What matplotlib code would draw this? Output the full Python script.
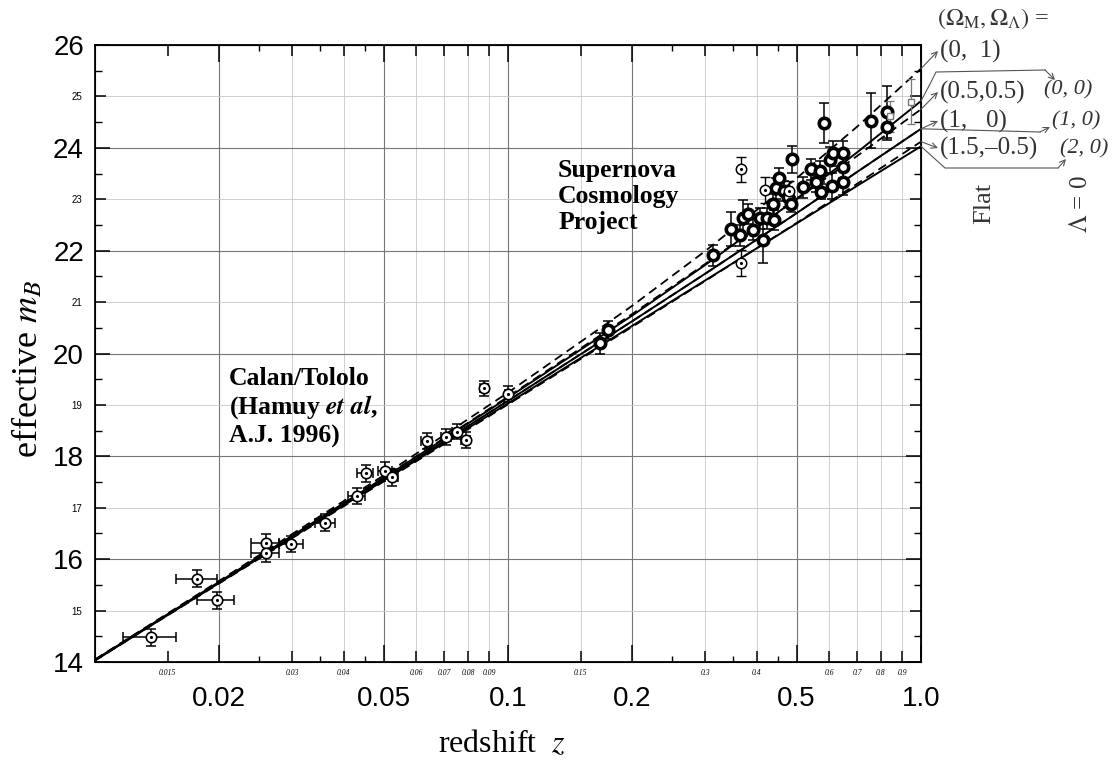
import matplotlib
matplotlib.use("Agg")
import matplotlib.pyplot as plt
from matplotlib.lines import Line2D

plt.rcParams['mathtext.fontset'] = 'stix'
SERIF = ['Liberation Serif', 'DejaVu Serif']
SANS = ['Liberation Sans Narrow', 'Liberation Sans', 'DejaVu Sans']

# ---- model curves ----
z_model = [0.01, 0.02, 0.05, 0.1, 0.2, 0.3, 0.5, 0.7, 1.0]
m_flat_0_1 = [14.05, 15.58, 17.63, 19.24, 20.93, 21.99, 23.41, 24.41, 25.54]
m_flat_05_05 = [14.04, 15.56, 17.59, 19.16, 20.77, 21.74, 23.00, 23.84, 24.75]
m_1_0 = [14.04, 15.55, 17.55, 19.08, 20.63, 21.55, 22.73, 23.53, 24.37]
m_flat_15_m05 = [14.03, 15.53, 17.51, 19.01, 20.52, 21.41, 22.54, 23.30, 24.12]
m_open_0_0 = [14.04, 15.56, 17.58, 19.14, 20.74, 21.72, 23.01, 23.91, 24.91]
m_open_2_0 = [14.03, 15.54, 17.53, 19.03, 20.54, 21.42, 22.53, 23.26, 24.03]

# ---- Calan/Tololo supernovae ----
ct_z = [0.0137, 0.0177, 0.0197, 0.0259, 0.0259, 0.0299, 0.0361, 0.0430, 0.0452,
        0.0504, 0.0523, 0.0636, 0.0707, 0.0751, 0.0791, 0.0876, 0.1002]
ct_m = [14.48, 15.62, 15.20, 16.31, 16.12, 16.29, 16.71, 17.23, 17.67,
        17.72, 17.59, 18.30, 18.38, 18.48, 18.32, 19.32, 19.21]
ct_dm = [0.17, 0.16, 0.16, 0.17, 0.17, 0.16, 0.16, 0.16, 0.16,
         0.17, 0.16, 0.15, 0.15, 0.15, 0.15, 0.15, 0.16]
ct_dz = 0.002

# ---- Supernova Cosmology Project, filled rings ----
scp_z = [0.167, 0.175, 0.313, 0.347, 0.365, 0.370, 0.382, 0.391, 0.408, 0.415,
         0.423, 0.439, 0.441, 0.446, 0.454, 0.467, 0.476, 0.484, 0.488, 0.517,
         0.541, 0.557, 0.570, 0.572, 0.583, 0.602, 0.608, 0.611, 0.649, 0.649,
         0.649, 0.755, 0.826, 0.826]
scp_m = [20.20, 20.46, 21.91, 22.43, 22.30, 22.63, 22.71, 22.41, 22.63, 22.21,
         22.63, 22.91, 22.60, 23.21, 23.41, 23.16, 23.04, 22.90, 23.78, 23.23,
         23.58, 23.34, 23.54, 23.15, 24.49, 23.76, 23.26, 23.89, 23.89, 23.62,
         23.33, 24.53, 24.70, 24.40]
scp_dm = [0.20, 0.18, 0.20, 0.33, 0.20, 0.35, 0.20, 0.20, 0.20, 0.45,
          0.20, 0.20, 0.20, 0.20, 0.20, 0.20, 0.20, 0.15, 0.26, 0.20,
          0.20, 0.20, 0.20, 0.15, 0.39, 0.25, 0.25, 0.25, 0.25, 0.20,
          0.25, 0.54, 0.50, 0.25]
# open (dotted) circles and faint squares
scp_open_z = [0.366, 0.366, 0.419, 0.480]
scp_open_m = [23.58, 21.76, 23.18, 23.16]
scp_open_dm = [0.25, 0.25, 0.25, 0.20]
scp_sq_z = [0.841, 0.944]
scp_sq_m = [24.61, 24.90]
scp_sq_dm = [0.30, 0.44]

# ---- ticks ----
x_major = [0.02, 0.05, 0.1, 0.2, 0.5, 1.0]
x_major_lab = ['0.02', '0.05', '0.1', '0.2', '0.5', '1.0']
x_minor = [0.015, 0.03, 0.04, 0.06, 0.07, 0.08, 0.09, 0.15, 0.3, 0.4, 0.6, 0.7, 0.8, 0.9]
x_minor_lab = ['0.015', '0.03', '0.04', '0.06', '0.07', '0.08', '0.09',
               '0.15', '0.3', '0.4', '0.6', '0.7', '0.8', '0.9']
x_tiny = [0.025, 0.035, 0.045, 0.25, 0.35, 0.45]
x_grid_dark = [0.02, 0.05, 0.1, 0.2, 0.5]
x_grid_light = [0.03, 0.04, 0.06, 0.07, 0.08, 0.09, 0.15, 0.3, 0.4, 0.6, 0.7, 0.8, 0.9]
y_major = [14, 16, 18, 20, 22, 24, 26]
y_minor = [15, 17, 19, 21, 23, 25]
y_tiny = [14.5, 15.5, 16.5, 17.5, 18.5, 19.5, 20.5, 21.5, 22.5, 23.5, 24.5, 25.5]

fig = plt.figure(figsize=(11.12, 7.63), dpi=100)
ax = fig.add_axes([95 / 1112, 1 - 662 / 763, (921 - 95) / 1112, (662 - 45) / 763])
ax.set_xscale('log')
ax.set_xlim(0.01, 1.0)
ax.set_ylim(14, 26)

for v in x_grid_dark:
    ax.axvline(v, color='#777777', lw=0.8, zorder=0)
for v in x_grid_light:
    ax.axvline(v, color='#c8c8c8', lw=0.6, zorder=0)
for v in y_major:
    ax.axhline(v, color='#777777', lw=0.8, zorder=0)
for v in y_minor:
    ax.axhline(v, color='#c8c8c8', lw=0.6, zorder=0)

# model curves: dashed = flat, solid = Lambda = 0
for m in [m_flat_0_1, m_flat_05_05, m_1_0, m_flat_15_m05]:
    ax.plot(z_model, m, color='k', lw=1.3, ls=(0, (5, 3)), zorder=2)
for m in [m_open_0_0, m_1_0, m_open_2_0]:
    ax.plot(z_model, m, color='k', lw=1.4, zorder=2)

# Calan/Tololo
ax.errorbar(ct_z, ct_m, xerr=ct_dz, yerr=ct_dm, fmt='none', ecolor='k',
            elinewidth=1.1, capsize=3.5, capthick=1.1, zorder=3)
ax.plot(ct_z, ct_m, 'o', mfc='white', mec='k', ms=7.5, mew=1.2, zorder=4)
ax.plot(ct_z, ct_m, '.', color='k', ms=2.5, zorder=5)

# SCP
ax.errorbar(scp_z, scp_m, yerr=scp_dm, fmt='none', ecolor='k',
            elinewidth=1.1, capsize=3.5, capthick=1.1, zorder=3)
ax.plot(scp_z, scp_m, 'o', mfc='white', mec='k', ms=7.5, mew=2.6, zorder=4)
ax.errorbar(scp_open_z, scp_open_m, yerr=scp_open_dm, fmt='none', ecolor='k',
            elinewidth=1.0, capsize=3.5, capthick=1.0, zorder=3)
ax.plot(scp_open_z, scp_open_m, 'o', mfc='white', mec='k', ms=7.5, mew=1.1, zorder=4)
ax.plot(scp_open_z, scp_open_m, '.', color='k', ms=2.5, zorder=5)
ax.errorbar(scp_sq_z, scp_sq_m, yerr=scp_sq_dm, fmt='none', ecolor='#777777',
            elinewidth=0.9, capsize=3, capthick=0.9, zorder=3)
ax.plot(scp_sq_z, scp_sq_m, 's', mfc='white', mec='#777777', ms=5, mew=1.0, zorder=4)

# ticks
ax.set_xticks(x_major, x_major_lab, fontsize=20, family=SANS)
ax.set_xticks(x_minor, x_minor_lab, minor=True, fontsize=5.5, style='italic', family=SERIF)
ax.set_yticks(y_major, [str(v) for v in y_major], fontsize=20, family=SANS)
ax.set_yticks(y_minor, [str(v) for v in y_minor], minor=True, fontsize=7, family=SANS)
ax.tick_params(which='both', direction='in', top=True, right=True, color='k', width=1.1)
ax.tick_params(axis='x', which='major', length=12, pad=17)
ax.tick_params(axis='x', which='minor', length=8, pad=5)
ax.tick_params(axis='y', which='major', length=11, pad=8)
ax.tick_params(axis='y', which='minor', length=8, pad=9)
for s in ax.spines.values():
    s.set_linewidth(1.3)

for loc in ['bottom', 'top']:
    sx = ax.secondary_xaxis(loc)
    sx.set_xticks(x_tiny, [''] * len(x_tiny))
    sx.set_xticks([], minor=True)
    sx.tick_params(direction='in', length=4, width=1.0)
for loc in ['left', 'right']:
    sy = ax.secondary_yaxis(loc)
    sy.set_yticks(y_tiny, [''] * len(y_tiny))
    sy.tick_params(direction='in', length=5, width=1.0)

fig.text(28 / 1112, 1 - 369 / 763, 'effective $m_B$', rotation=90, fontsize=26,
         family=SERIF, ha='center', va='center')
fig.text(502 / 1112, 1 - 744 / 763, 'redshift  $z$', fontsize=23, family=SERIF,
         ha='center', va='center')

ax.text(0.0211, 19.74, 'Calan/Tololo\n(Hamuy $\\mathbfit{et\\ al}$,\nA.J. 1996)',
        fontsize=18.5, family=SERIF, fontweight='bold', va='top', ha='left',
        linespacing=1.17)
ax.text(0.1322, 23.78, 'Supernova\nCosmology\nProject', fontsize=18.5, family=SERIF,
        fontweight='bold', va='top', ha='left', linespacing=1.17)


def px(x, y):
    return (x / 1112, 1 - y / 763)


def end_point(m):
    disp = ax.transData.transform((1.0, m))
    return tuple(fig.transFigure.inverted().transform(disp))


lab_col = '#333333'
fig.text(*px(937, 19), '$(\\Omega_{\\rm M},\\Omega_\\Lambda)$ =', fontsize=17.5,
         family=SERIF, color=lab_col, va='center', ha='left')
flat_labels = [('(0,  1)', 51, m_flat_0_1[-1]),
               ('(0.5,0.5)', 92, m_flat_05_05[-1]),
               ('(1,   0)', 121, m_1_0[-1]),
               ('(1.5,\u20130.5)', 148, m_flat_15_m05[-1])]
for txt, yy, mend in flat_labels:
    fig.text(*px(940, yy), txt, fontsize=18, family=SERIF, color=lab_col,
             va='center', ha='left')
    ax.annotate('', xy=px(938, yy), xycoords='figure fraction',
                xytext=end_point(mend), textcoords='figure fraction',
                arrowprops=dict(arrowstyle='->', lw=0.8, color='#555555',
                                shrinkA=0, shrinkB=0),
                annotation_clip=False)

open_labels = [('(0, 0)', 1044, 90, m_open_0_0[-1],
                [(930, 84), (936, 72), (1045, 70)], (1055, 80)),
               ('(1, 0)', 1052, 121, m_1_0[-1],
                [(1040, 132)], (1050, 127)),
               ('(2, 0)', 1060, 149, m_open_2_0[-1],
                [(945, 168), (1058, 168)], (1066, 159))]
for txt, xx, yy, mend, path, head in open_labels:
    fig.text(*px(xx, yy), txt, fontsize=16, family=SERIF, style='italic',
             color=lab_col, va='center', ha='left')
    pts = [end_point(mend)] + [px(*p) for p in path]
    fig.add_artist(Line2D([p[0] for p in pts], [p[1] for p in pts],
                          transform=fig.transFigure, lw=0.8, color='#555555'))
    ax.annotate('', xy=px(*head), xycoords='figure fraction',
                xytext=pts[-1], textcoords='figure fraction',
                arrowprops=dict(arrowstyle='->', lw=0.8, color='#555555',
                                shrinkA=0, shrinkB=0),
                annotation_clip=False)

fig.text(*px(984, 203), 'Flat', rotation=90, fontsize=19, family=SERIF,
         color=lab_col, ha='center', va='center')
fig.text(*px(1081, 204), '$\\Lambda$ = 0', rotation=90, fontsize=18, family=SERIF,
         color=lab_col, ha='center', va='center')

fig.savefig('out.png', dpi=100)
